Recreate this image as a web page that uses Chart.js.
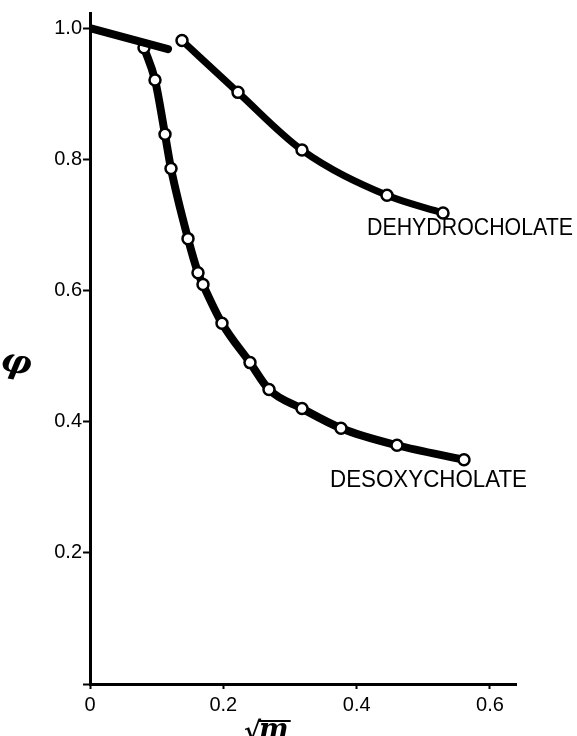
<!DOCTYPE html>
<html>
<head>
<meta charset="utf-8">
<script src="https://cdn.jsdelivr.net/npm/chart.js@4.4.1/dist/chart.umd.min.js"></script>
<style>
  html, body { margin: 0; padding: 0; background: #fff; }
  #wrap { width: 577px; height: 736px; position: relative; }
</style>
</head>
<body>
<div id="wrap"><canvas id="c" width="577" height="736"></canvas></div>
<script>
// ---- data ----
const desoxyX = [0.081, 0.0975, 0.1125, 0.1215, 0.147, 0.162, 0.1695, 0.198, 0.240, 0.2685, 0.318, 0.3765, 0.4605, 0.561];
const desoxyY = [0.970, 0.921, 0.838, 0.786, 0.679, 0.627, 0.609, 0.550, 0.490, 0.449, 0.420, 0.390, 0.364, 0.342];
const dehydroX = [0.138, 0.222, 0.318, 0.4455, 0.5295];
const dehydroY = [0.981, 0.902, 0.814, 0.745, 0.718];
const startX = [0.0, 0.117];
const startY = [1.0, 0.968];
const xTickValues = [0, 0.2, 0.4, 0.6];
const xTickLabels = ['0', '0.2', '0.4', '0.6'];
const yTickValues = [0, 0.2, 0.4, 0.6, 0.8, 1.0];
const yTickLabels = ['', '0.2', '0.4', '0.6', '0.8', '1.0'];
const seriesNames = ['DESOXYCHOLATE', 'DEHYDROCHOLATE'];
const xTitle = '√m';
const yTitle = 'φ';

const toPts = (xs, ys) => xs.map((x, i) => ({x: x, y: ys[i]}));

const labelPlugin = {
  id: 'labels',
  afterDraw(chart) {
    const ctx = chart.ctx;
    ctx.save();
    ctx.fillStyle = '#000';
    ctx.strokeStyle = '#000';
    ctx.textBaseline = 'alphabetic';
    ctx.textAlign = 'left';
    function drawScaled(text, left, baseline, width, size) {
      ctx.font = size + 'px "Liberation Sans", Arial, sans-serif';
      const w = ctx.measureText(text).width;
      ctx.save();
      ctx.translate(left, baseline);
      ctx.scale(width / w, 1);
      ctx.fillText(text, 0, 0);
      ctx.restore();
    }
    drawScaled(seriesNames[1], 367, 235, 206, 24);
    drawScaled(seriesNames[0], 330, 487, 197, 24);
    // y title (phi)
    ctx.save();
    ctx.translate(16, 364);
    ctx.rotate(0.2);
    ctx.font = 'italic 600 34px "DejaVu Serif", serif';
    ctx.textAlign = 'center';
    ctx.textBaseline = 'middle';
    ctx.fillText(yTitle, 0, 0);
    ctx.restore();
    // x title (sqrt m)
    ctx.font = 'bold 26px "DejaVu Serif", serif';
    ctx.textAlign = 'left';
    ctx.fillText(xTitle.charAt(0), 244, 740);
    const rw = ctx.measureText(xTitle.charAt(0)).width;
    ctx.font = 'italic bold 28px "DejaVu Serif", serif';
    ctx.fillText(xTitle.slice(1), 244 + rw - 2, 738);
    const mw = ctx.measureText(xTitle.slice(1)).width;
    ctx.lineWidth = 2;
    ctx.beginPath();
    ctx.moveTo(244 + rw - 3, 721);
    ctx.lineTo(244 + rw + mw, 721);
    ctx.stroke();
    ctx.restore();
  }
};

const pointStyle = {
  pointRadius: 5.5,
  pointBorderWidth: 2.5,
  pointBackgroundColor: '#fff',
  pointBorderColor: '#000',
  pointHoverRadius: 5.5
};

new Chart(document.getElementById('c'), {
  type: 'line',
  data: {
    datasets: [
      {
        label: 'start',
        data: toPts(startX, startY),
        borderColor: '#000',
        borderWidth: 8,
        borderCapStyle: 'round',
        pointRadius: 0,
        tension: 0
      },
      Object.assign({
        label: seriesNames[0],
        data: toPts(desoxyX, desoxyY),
        borderColor: '#000',
        borderWidth: 8,
        borderCapStyle: 'round',
        cubicInterpolationMode: 'monotone'
      }, pointStyle),
      Object.assign({
        label: seriesNames[1],
        data: toPts(dehydroX, dehydroY),
        borderColor: '#000',
        borderWidth: 7,
        borderCapStyle: 'round',
        cubicInterpolationMode: 'monotone'
      }, pointStyle)
    ]
  },
  options: {
    responsive: false,
    animation: false,
    events: [],
    layout: { padding: { left: 0, right: 61, top: 10, bottom: 0 } },
    plugins: { legend: { display: false }, tooltip: { enabled: false } },
    scales: {
      x: {
        type: 'linear',
        min: 0,
        max: 0.639,
        afterBuildTicks(scale) { scale.ticks = xTickValues.map(v => ({value: v})); },
        afterFit(scale) { scale.height = 52; },
        grid: { display: true, drawOnChartArea: false, drawTicks: true, tickLength: 5, tickWidth: 2, tickColor: '#000' },
        border: { display: true, color: '#000', width: 3 },
        ticks: {
          color: '#000',
          padding: 4,
          maxRotation: 0,
          font: { family: '"Liberation Sans", Arial, sans-serif', size: 20 },
          callback: (v, i) => xTickLabels[xTickValues.indexOf(v)] ?? ''
        }
      },
      y: {
        type: 'linear',
        min: 0,
        max: 1.023,
        afterBuildTicks(scale) { scale.ticks = yTickValues.map(v => ({value: v})); },
        afterFit(scale) { scale.width = 90; },
        grid: { display: true, drawOnChartArea: false, drawTicks: true, tickLength: 7, tickWidth: 2, tickColor: '#000' },
        border: { display: true, color: '#000', width: 3 },
        ticks: {
          color: '#000',
          padding: 1,
          font: { family: '"Liberation Sans", Arial, sans-serif', size: 20 },
          callback: (v) => yTickLabels[yTickValues.indexOf(v)] ?? ''
        }
      }
    }
  },
  plugins: [labelPlugin]
});
</script>
</body>
</html>
